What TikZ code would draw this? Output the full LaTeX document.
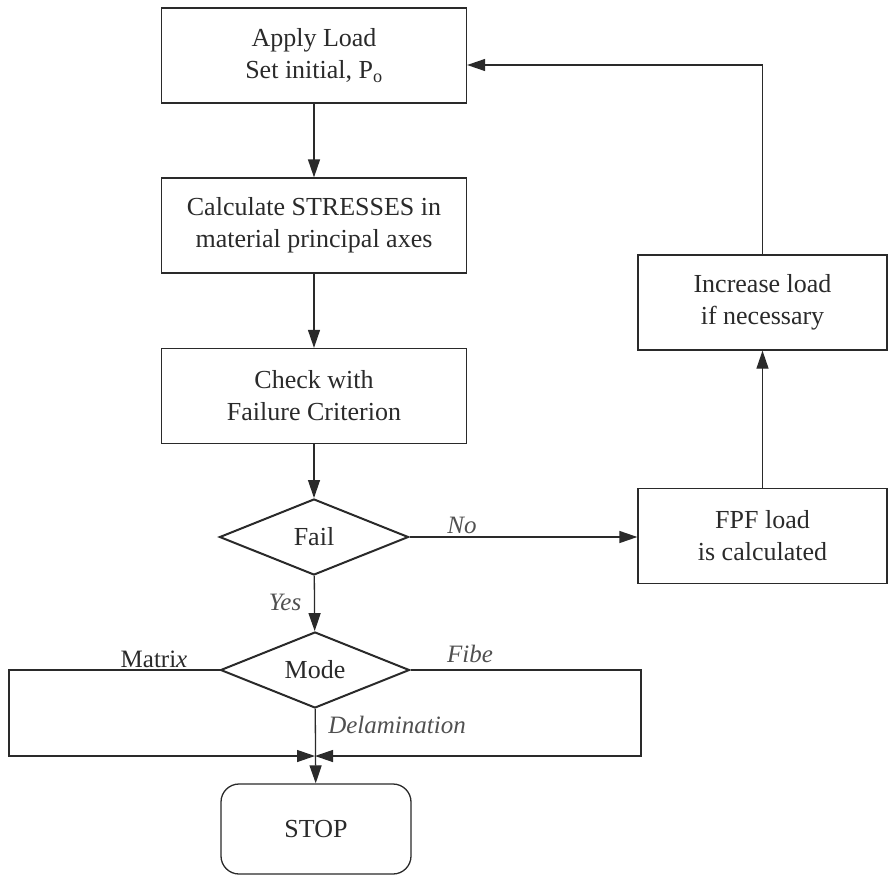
\documentclass[tikz,border=0pt]{standalone}
\usepackage{fontspec}
\setmainfont{Liberation Serif}
\usetikzlibrary{shapes.geometric,arrows.meta,calc}
\definecolor{ink}{HTML}{2A2A2A}
\definecolor{lab}{HTML}{505050}
\begin{document}
\begin{tikzpicture}[x=1pt,y=-1pt,
  txt/.style={font=\fontsize{26}{32}\selectfont,text=ink},
  box/.style={txt,draw=ink,line width=1.3pt,inner sep=0pt,align=center},
  mainbox/.style={box,minimum width=305pt,minimum height=95pt},
  sidebox/.style={box,minimum width=249pt,minimum height=95pt},
  decision/.style={txt,draw=ink,line width=2pt,shape=diamond,aspect=2.5,inner sep=0pt,minimum width=189pt,minimum height=76pt},
  stopbox/.style={box,rounded corners=18pt,minimum width=190pt,minimum height=90pt},
  conn/.style={draw=ink,line width=1.3pt},
  arr/.style={conn,-{Triangle[length=18pt,width=12pt]}},
  lbl/.style={font=\fontsize{25}{30}\selectfont\itshape,text=lab,anchor=base,inner sep=0pt},
  ulbl/.style={font=\fontsize{25}{30}\selectfont,text=ink,anchor=base,inner sep=0pt}
]
\useasboundingbox (0,0) rectangle (894,876);

\node[mainbox] (b1) at (314,55.5) {Apply Load\\Set initial, P\textsubscript{o}};
\node[mainbox] (b2) at (314,225.5) {Calculate STRESSES in\\material principal axes};
\node[mainbox] (b3) at (314,396) {Check with\\Failure Criterion};
\node[decision] (fail) at (314,537) {Fail};
\node[sidebox] (fpf) at (762.5,536) {FPF load\\is calculated};
\node[sidebox] (inc) at (762.5,302.5) {Increase load\\if necessary};
\node[decision] (mode) at (315,670) {Mode};
\node[stopbox] (stop) at (316,829) {STOP};

\coordinate (ret) at ([yshift=-9.5pt]b1.east);
\coordinate (jn) at (315,756);
\coordinate (lc) at (9,670);
\coordinate (rc) at (641,670);

\draw[arr] (b1) -- (b2);
\draw[arr] (b2) -- (b3);
\draw[arr] (b3) -- (fail);
\draw[arr] (fail.east) -- (fail.east -| fpf.west);
\draw[arr] (fail) -- (mode);
\draw[arr] (fpf) -- (inc);
\draw[arr] (inc.north) |- (ret);
\draw[arr] (mode.west) -- (lc) |- (jn);
\draw[arr] (mode.east) -- (rc) |- (jn);
\draw[arr] (mode) -- (stop);

\node[lbl] (lno) at (462,533) {No};
\node[lbl] (lyes) at (285,610) {Yes};
\node[ulbl] (lmat) at (154,667) {Matri\textit{x}};
\node[lbl] (lfib) at (470,662) {Fibe};
\node[lbl] (ldel) at (397,733) {Delamination};
\end{tikzpicture}
\end{document}
